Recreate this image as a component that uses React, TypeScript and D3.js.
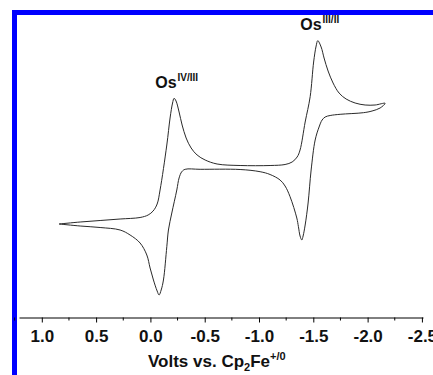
import { useEffect, useRef } from 'react';
import * as d3 from 'd3';

// potential (V vs Cp2Fe+/0) and current (arbitrary units)
const forwardV = [
  0.841, 0.647, 0.463, 0.279, 0.095, 0.021, -0.025, -0.062, -0.089, -0.151, -0.181, -0.204,
  -0.218, -0.236, -0.264, -0.292, -0.329, -0.375, -0.43, -0.504, -0.614, -0.826, -1.102,
  -1.24, -1.305, -1.351, -1.378, -1.425, -1.471, -1.503, -1.526, -1.541, -1.572, -1.599,
  -1.636, -1.682, -1.737, -1.802, -1.885, -1.977, -2.069, -2.161,
];
const forwardI = [
  -0.4, -0.2, -0.05, 0.1, 0.25, 0.5, 0.9, 1.6, 3.0, 7.5, 10.2, 11.7, 12.17, 11.9, 10.8, 9.5,
  8.2, 7.2, 6.5, 6.0, 5.6, 5.45, 5.45, 5.55, 5.8, 6.3, 7.0, 9.8, 12.33, 15.8, 17.4, 17.93,
  17.3, 16.2, 14.9, 13.7, 12.7, 12.1, 11.7, 11.5, 11.5, 11.67,
];
const reverseV = [
  -2.115, -2.041, -1.961, -1.747, -1.655, -1.609, -1.581, -1.553, -1.517, -1.48, -1.452,
  -1.425, -1.406, -1.394, -1.378, -1.363, -1.348, -1.286, -1.24, -1.194, -1.102, -1.01,
  -0.826, -0.458, -0.32, -0.289, -0.264, -0.243, -0.197, -0.166, -0.151, -0.12, -0.099,
  -0.08, -0.062, -0.028, 0.003, 0.033, 0.095, 0.187, 0.279, 0.463, 0.647, 0.841,
];
const reverseI = [
  11.2, 10.9, 10.73, 10.57, 10.45, 10.3, 10.0, 9.3, 8.0, 5.0, 1.7, -0.5, -1.6, -2.0, -1.6,
  -0.67, 0.2, 2.33, 3.4, 4.0, 4.55, 4.83, 5.05, 5.07, 5.07, 4.83, 4.2, 3.0, 0.7, -1.0, -2.67,
  -6.0, -7.0, -7.5, -7.1, -6.0, -4.8, -3.5, -2.3, -1.5, -1.0, -0.75, -0.6, -0.4,
];
const majorTicks = [1.0, 0.5, 0.0, -0.5, -1.0, -1.5, -2.0, -2.5];
const minorTicks = [1.25, 0.75, 0.25, -0.25, -0.75, -1.25, -1.75, -2.25];
const peakLabels = [
  { v: -0.21, i: 12.17, sup: 'IV/III' },
  { v: -1.545, i: 17.93, sup: 'III/II' },
];

const FONT = '"Liberation Sans", Arial, sans-serif';

export default function App() {
  const svgRef = useRef<SVGSVGElement>(null);

  useEffect(() => {
    if (!svgRef.current) return;
    const width = 433;
    const height = 375;
    const svg = d3.select(svgRef.current);
    svg.selectAll('*').remove();
    svg.attr('width', width).attr('height', height);

    const axisY = 317.5;
    const x = d3.scaleLinear().domain([1.21, -2.51]).range([19, 423]);
    const y = d3.scaleLinear().domain([-9.75, 20.5]).range([axisY, 15]);

    // blue frame on left and top
    svg.append('rect').attr('x', 12).attr('y', 10).attr('width', 5).attr('height', height - 10).attr('fill', '#0000ff');
    svg.append('rect').attr('x', 12).attr('y', 10).attr('width', width - 12).attr('height', 5).attr('fill', '#0000ff');

    const pts: [number, number][] = [
      ...forwardV.map((v, k) => [v, forwardI[k]] as [number, number]),
      ...reverseV.map((v, k) => [v, reverseI[k]] as [number, number]),
    ];
    const line = d3
      .line<[number, number]>()
      .x((d) => x(d[0]))
      .y((d) => y(d[1]))
      .curve(d3.curveCatmullRom.alpha(0.5));

    svg.append('path')
      .datum(pts)
      .attr('d', line)
      .attr('fill', 'none')
      .attr('stroke', '#2a2a2a')
      .attr('stroke-width', 1);

    // x axis
    const ax = svg.append('g').attr('transform', `translate(0,${axisY})`);
    ax.call(
      d3.axisBottom(x)
        .tickValues(majorTicks)
        .tickSize(5)
        .tickSizeOuter(0)
        .tickFormat((d) => (d as number).toFixed(1)),
    );
    ax.select('.domain').attr('stroke', '#000');
    ax.selectAll('.tick line').attr('stroke', '#000');
    ax.selectAll('.tick text')
      .attr('y', 24.5)
      .attr('dy', 0)
      .attr('font-family', FONT)
      .attr('font-weight', 'bold')
      .attr('font-size', 17)
      .attr('fill', '#111');
    ax.selectAll('.minor')
      .data(minorTicks)
      .enter()
      .append('line')
      .attr('x1', (d) => x(d))
      .attr('x2', (d) => x(d))
      .attr('y1', 0)
      .attr('y2', 3)
      .attr('stroke', '#000');

    // axis title
    const title = svg.append('text')
      .attr('x', 148)
      .attr('y', 367)
      .attr('font-family', FONT)
      .attr('font-weight', 'bold')
      .attr('font-size', 17)
      .attr('fill', '#111');
    title.append('tspan').text('Volts vs. Cp');
    title.append('tspan').attr('font-size', 11).attr('dy', 4).text('2');
    title.append('tspan').attr('dy', -4).text('Fe');
    title.append('tspan').attr('font-size', 11).attr('dy', -7).text('+/0');

    // peak labels
    peakLabels.forEach((p) => {
      const t = svg.append('text')
        .attr('x', x(p.v) - 18)
        .attr('y', y(p.i) - 10.5)
        .attr('font-family', FONT)
        .attr('font-weight', 'bold')
        .attr('font-size', 16)
        .attr('fill', '#111');
      t.append('tspan').text('Os');
      t.append('tspan').attr('font-size', 10).attr('dy', -7).attr('dx', 1).text(p.sup);
    });
  }, []);

  return (
    <div style={{ position: 'absolute', left: 0, top: 0 }}>
      <svg ref={svgRef} style={{ display: 'block' }} />
    </div>
  );
}
